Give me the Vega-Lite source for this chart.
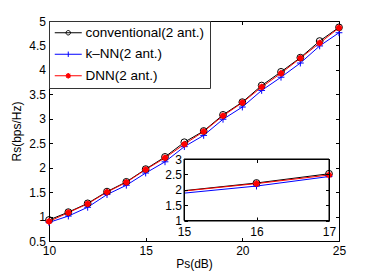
{
  "$schema": "https://vega.github.io/schema/vega-lite/v6.json",
  "width": 290,
  "height": 220,
  "autosize": {"type": "none"},
  "padding": {"left": 49, "top": 21, "right": 35, "bottom": 30},
  "background": "white",
  "config": {
    "view": {"stroke": null},
    "font": "Liberation Sans",
    "axis": {
      "labelFont": "Liberation Sans", "labelFontSize": 12, "labelColor": "black",
      "titleFont": "Liberation Sans", "titleFontSize": 12, "titleFontWeight": "normal", "titleColor": "black",
      "domainColor": "black", "tickColor": "black", "tickSize": -3.5, "grid": false,
      "domainWidth": 1, "tickWidth": 1, "labelFlush": false, "labelOverlap": false, "format": "~g"
    }
  },
  "datasets": {
    "d": [
      {"x": 10, "s": "conventional(2 ant.)", "y": 0.93}, {"x": 10, "s": "k–NN(2 ant.)", "y": 0.88}, {"x": 10, "s": "DNN(2 ant.)", "y": 0.90},
      {"x": 11, "s": "conventional(2 ant.)", "y": 1.09}, {"x": 11, "s": "k–NN(2 ant.)", "y": 1.01}, {"x": 11, "s": "DNN(2 ant.)", "y": 1.08},
      {"x": 12, "s": "conventional(2 ant.)", "y": 1.27}, {"x": 12, "s": "k–NN(2 ant.)", "y": 1.19}, {"x": 12, "s": "DNN(2 ant.)", "y": 1.26},
      {"x": 13, "s": "conventional(2 ant.)", "y": 1.51}, {"x": 13, "s": "k–NN(2 ant.)", "y": 1.45}, {"x": 13, "s": "DNN(2 ant.)", "y": 1.50},
      {"x": 14, "s": "conventional(2 ant.)", "y": 1.71}, {"x": 14, "s": "k–NN(2 ant.)", "y": 1.64}, {"x": 14, "s": "DNN(2 ant.)", "y": 1.70},
      {"x": 15, "s": "conventional(2 ant.)", "y": 1.97}, {"x": 15, "s": "k–NN(2 ant.)", "y": 1.89}, {"x": 15, "s": "DNN(2 ant.)", "y": 1.96},
      {"x": 16, "s": "conventional(2 ant.)", "y": 2.22}, {"x": 16, "s": "k–NN(2 ant.)", "y": 2.12}, {"x": 16, "s": "DNN(2 ant.)", "y": 2.20},
      {"x": 17, "s": "conventional(2 ant.)", "y": 2.52}, {"x": 17, "s": "k–NN(2 ant.)", "y": 2.43}, {"x": 17, "s": "DNN(2 ant.)", "y": 2.48},
      {"x": 18, "s": "conventional(2 ant.)", "y": 2.75}, {"x": 18, "s": "k–NN(2 ant.)", "y": 2.66}, {"x": 18, "s": "DNN(2 ant.)", "y": 2.74},
      {"x": 19, "s": "conventional(2 ant.)", "y": 3.08}, {"x": 19, "s": "k–NN(2 ant.)", "y": 2.99}, {"x": 19, "s": "DNN(2 ant.)", "y": 3.06},
      {"x": 20, "s": "conventional(2 ant.)", "y": 3.34}, {"x": 20, "s": "k–NN(2 ant.)", "y": 3.24}, {"x": 20, "s": "DNN(2 ant.)", "y": 3.33},
      {"x": 21, "s": "conventional(2 ant.)", "y": 3.68}, {"x": 21, "s": "k–NN(2 ant.)", "y": 3.58}, {"x": 21, "s": "DNN(2 ant.)", "y": 3.65},
      {"x": 22, "s": "conventional(2 ant.)", "y": 3.96}, {"x": 22, "s": "k–NN(2 ant.)", "y": 3.85}, {"x": 22, "s": "DNN(2 ant.)", "y": 3.93},
      {"x": 23, "s": "conventional(2 ant.)", "y": 4.25}, {"x": 23, "s": "k–NN(2 ant.)", "y": 4.14}, {"x": 23, "s": "DNN(2 ant.)", "y": 4.24},
      {"x": 24, "s": "conventional(2 ant.)", "y": 4.59}, {"x": 24, "s": "k–NN(2 ant.)", "y": 4.49}, {"x": 24, "s": "DNN(2 ant.)", "y": 4.55},
      {"x": 25, "s": "conventional(2 ant.)", "y": 4.87}, {"x": 25, "s": "k–NN(2 ant.)", "y": 4.76}, {"x": 25, "s": "DNN(2 ant.)", "y": 4.86}
    ]
  },
  "layer": [
    {
      "data": {"name": "d"},
      "mark": {"type": "line", "strokeWidth": 1},
      "encoding": {
        "x": {"field": "x", "type": "quantitative", "scale": {"domain": [10, 25], "nice": false, "zero": false},
          "axis": {"orient": "bottom", "values": [10, 15, 20, 25], "title": "Ps(dB)", "labelPadding": 8, "titlePadding": 2}},
        "y": {"field": "y", "type": "quantitative", "scale": {"domain": [0.5, 5], "nice": false, "zero": false},
          "axis": {"orient": "left", "values": [0.5, 1, 1.5, 2, 2.5, 3, 3.5, 4, 4.5, 5], "title": "Rs(bps/Hz)", "labelPadding": 7, "titlePadding": 5}},
        "color": {"field": "s", "type": "nominal", "sort": null,
          "scale": {"domain": ["conventional(2 ant.)", "k–NN(2 ant.)", "DNN(2 ant.)"], "range": ["black", "#0000ff", "red"]},
          "legend": {
            "title": null, "orient": "top-left", "offset": 0, "fillColor": "white", "strokeColor": "#333333",
            "padding": 5, "labelFont": "Liberation Sans", "labelFontSize": 13.5, "labelColor": "black",
            "symbolSize": 144, "labelOffset": 18, "rowPadding": 6.5, "symbolStrokeWidth": 1,
            "symbolType": "M-1,0H3.5",
            "encode": {"symbols": {"update": {
              "shape": {"signal": "substring(datum.value,0,1)==='c' ? 'M-1,0H3.5M0.88,0A0.37,0.37 0 1 1 1.62,0A0.37,0.37 0 1 1 0.88,0' : (substring(datum.value,0,1)==='k' ? 'M-1,0H3.5M1.25,-0.45V0.45' : 'M-1,0H3.5M1.25,-0.45V0.45M0.93,-0.32L1.57,0.32M0.93,0.32L1.57,-0.32M0.9,0A0.35,0.35 0 1 1 1.6,0A0.35,0.35 0 1 1 0.9,0')"},
              "fill": {"signal": "substring(datum.value,0,1)==='D' ? 'red' : 'transparent'"}
            }}}
          }}
      }
    },
    {
      "data": {"name": "d"},
      "mark": {"type": "point", "filled": false, "size": 46, "strokeWidth": 1, "opacity": 1},
      "encoding": {
        "x": {"field": "x", "type": "quantitative", "scale": {"domain": [10, 25], "nice": false, "zero": false},
          "axis": {"orient": "top", "values": [10, 15, 20, 25], "labels": false, "title": null}},
        "y": {"field": "y", "type": "quantitative", "scale": {"domain": [0.5, 5], "nice": false, "zero": false},
          "axis": {"orient": "right", "values": [0.5, 1, 1.5, 2, 2.5, 3, 3.5, 4, 4.5, 5], "labels": false, "title": null}},
        "color": {"field": "s", "type": "nominal", "sort": null, "legend": null},
        "shape": {"condition": [
            {"test": "datum.s === 'conventional(2 ant.)'", "value": "circle"},
            {"test": "datum.s === 'DNN(2 ant.)'", "value": "M-1,0H1M0,-1V1M-0.7,-0.7L0.7,0.7M-0.7,0.7L0.7,-0.7M-0.75,0A0.75,0.75 0 1 1 0.75,0A0.75,0.75 0 1 1 -0.75,0"}
          ], "value": "M-1,0H1M0,-1V1"},
        "fill": {"condition": {"test": "datum.s === 'DNN(2 ant.)'", "value": "red"}, "value": "transparent"}
      }
    },
    {
      "data": {"values": [{}]},
      "mark": {"type": "rect", "fill": "white", "stroke": "black", "strokeWidth": 1},
      "encoding": {
        "x": {"datum": 15, "type": "quantitative", "scale": {"domain": [15, 17], "range": [135, 280], "nice": false, "zero": false},
          "axis": {"orient": "bottom", "offset": -20.5, "values": [15, 16, 17], "title": null, "zindex": 1, "labelPadding": 9}},
        "x2": {"datum": 17},
        "y": {"datum": 1, "type": "quantitative", "scale": {"domain": [1, 3], "range": [199.5, 138], "nice": false, "zero": false},
          "axis": {"orient": "left", "offset": -135, "values": [1, 1.5, 2, 2.5, 3], "title": null, "zindex": 1, "labelPadding": 6}},
        "y2": {"datum": 3}
      }
    },
    {
      "data": {"name": "d"},
      "transform": [{"filter": "datum.x >= 15 && datum.x <= 17"}],
      "mark": {"type": "line", "strokeWidth": 1},
      "encoding": {
        "x": {"field": "x", "type": "quantitative", "scale": {"domain": [15, 17], "range": [135, 280], "nice": false, "zero": false},
          "axis": {"orient": "top", "offset": -138, "values": [15, 16, 17], "labels": false, "title": null, "zindex": 1}},
        "y": {"field": "y", "type": "quantitative", "scale": {"domain": [1, 3], "range": [199.5, 138], "nice": false, "zero": false},
          "axis": {"orient": "right", "offset": -10, "values": [1, 1.5, 2, 2.5, 3], "labels": false, "title": null, "zindex": 1}},
        "color": {"field": "s", "type": "nominal", "sort": null, "legend": null}
      }
    },
    {
      "data": {"name": "d"},
      "transform": [{"filter": "datum.x > 15 && datum.x <= 17"}],
      "mark": {"type": "point", "filled": false, "size": 46, "strokeWidth": 1, "opacity": 1},
      "encoding": {
        "x": {"field": "x", "type": "quantitative", "scale": {"domain": [15, 17], "range": [135, 280], "nice": false, "zero": false}, "axis": null},
        "y": {"field": "y", "type": "quantitative", "scale": {"domain": [1, 3], "range": [199.5, 138], "nice": false, "zero": false}, "axis": null},
        "color": {"field": "s", "type": "nominal", "sort": null, "legend": null},
        "shape": {"condition": [
            {"test": "datum.s === 'conventional(2 ant.)'", "value": "circle"},
            {"test": "datum.s === 'DNN(2 ant.)'", "value": "M-1,0H1M0,-1V1M-0.7,-0.7L0.7,0.7M-0.7,0.7L0.7,-0.7M-0.75,0A0.75,0.75 0 1 1 0.75,0A0.75,0.75 0 1 1 -0.75,0"}
          ], "value": "M-1,0H1M0,-1V1"},
        "fill": {"condition": {"test": "datum.s === 'DNN(2 ant.)'", "value": "red"}, "value": "transparent"}
      }
    }
  ],
  "resolve": {"scale": {"x": "independent", "y": "independent"}}
}
